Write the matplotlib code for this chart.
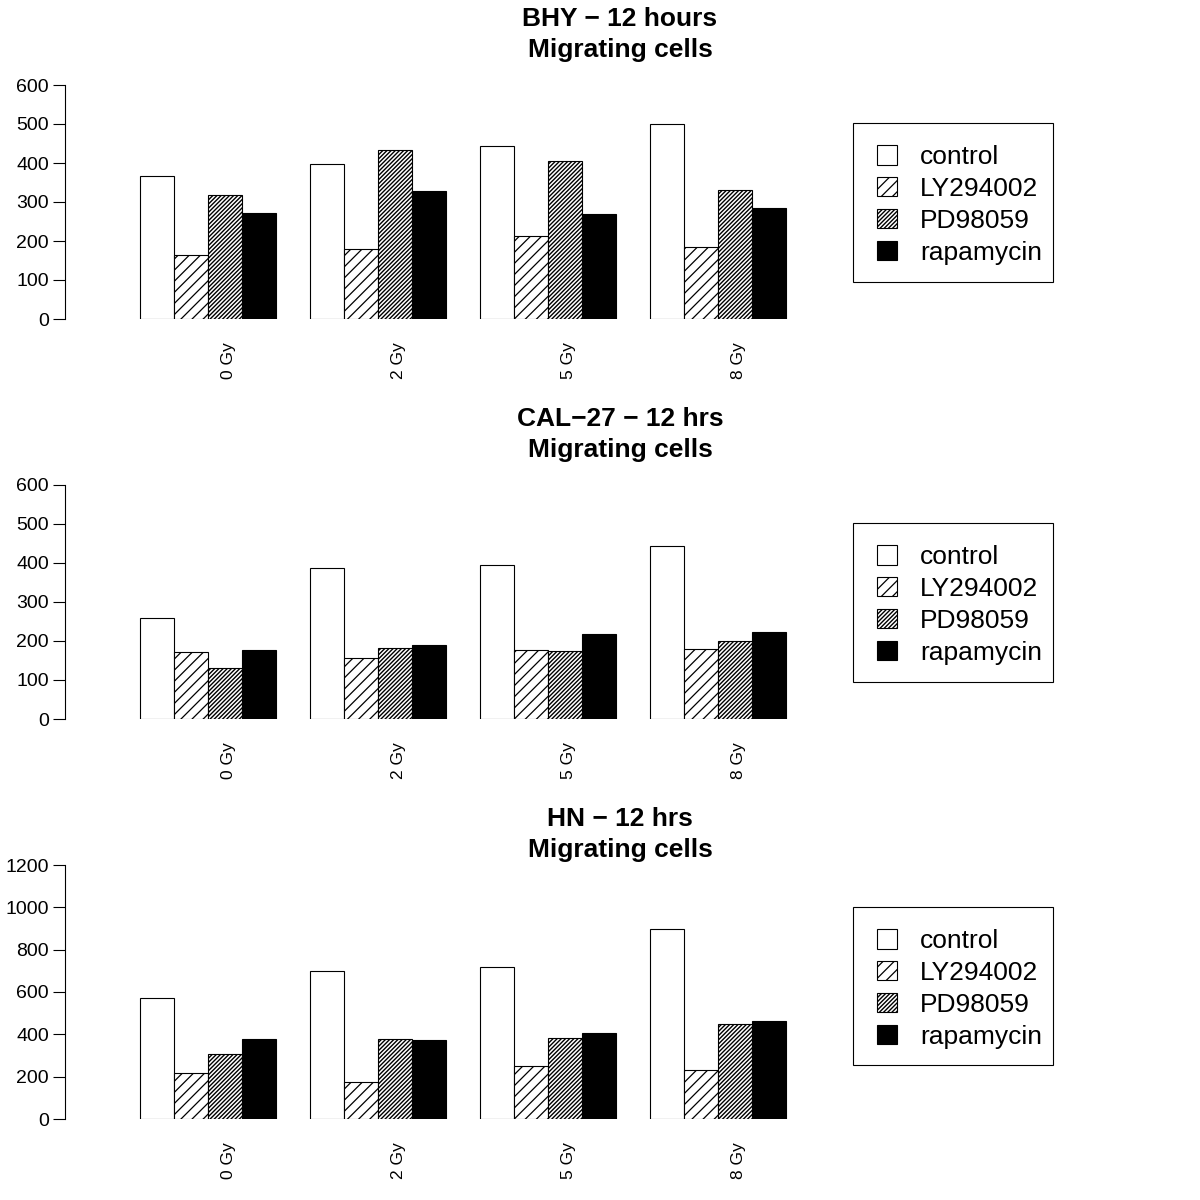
import matplotlib
matplotlib.use("Agg")
import matplotlib.pyplot as plt
from matplotlib.patches import Patch, Rectangle

plt.rcParams['font.family'] = ['Liberation Sans', 'DejaVu Sans']
plt.rcParams['hatch.linewidth'] = 0.8

# data
doses = ["0 Gy", "2 Gy", "5 Gy", "8 Gy"]
treatments = ["control", "LY294002", "PD98059", "rapamycin"]

bhy_control = [367, 398, 443, 499]
bhy_ly = [164, 179, 212, 184]
bhy_pd = [319, 434, 404, 332]
bhy_rapa = [273, 328, 270, 284]

cal_control = [259, 387, 395, 444]
cal_ly = [171, 157, 176, 180]
cal_pd = [131, 183, 175, 200]
cal_rapa = [178, 189, 219, 223]

hn_control = [573, 698, 720, 896]
hn_ly = [216, 173, 250, 230]
hn_pd = [309, 376, 381, 449]
hn_rapa = [380, 375, 405, 465]

panels = [
    ("BHY \u2212 12 hours", [bhy_control, bhy_ly, bhy_pd, bhy_rapa], 600, [0, 100, 200, 300, 400, 500, 600]),
    ("CAL\u221227 \u2212 12 hrs", [cal_control, cal_ly, cal_pd, cal_rapa], 600, [0, 100, 200, 300, 400, 500, 600]),
    ("HN \u2212 12 hrs", [hn_control, hn_ly, hn_pd, hn_rapa], 1200, [0, 200, 400, 600, 800, 1000, 1200]),
]

# pixel layout (figure is 1200x1200)
zero_px = [319, 719, 1119]
top_px = [85, 485, 865]
legend_box_px = [(123, 282), (523, 682), (907, 1065)]

styles = [
    dict(facecolor="white", hatch=None),
    dict(facecolor="white", hatch="///"),
    dict(facecolor="white", hatch="////////"),
    dict(facecolor="black", hatch=None),
]
hatch_lw = [0.8, 0.9, 1.0, 0.8]


def style_patch(patch, j):
    if hasattr(patch, "set_hatch_linewidth"):
        patch.set_hatch_linewidth(hatch_lw[j])


W = 1200.0
fig = plt.figure(figsize=(12, 12), dpi=100)

unit = 34.0            # px per bar
ax_left, ax_right = 65, 1135
x0 = 1 - (140 - ax_left) / unit
x1 = 1 + (ax_right - 140) / unit

for p, (title, series, ymax, yticks) in enumerate(panels):
    z, t = zero_px[p], top_px[p]
    ax = fig.add_axes([ax_left / W, 1 - z / W, (ax_right - ax_left) / W, (z - t) / W])
    for j, vals in enumerate(series):
        lefts = [1 + 5 * g + j for g in range(len(doses))]
        bars = ax.bar(lefts, vals, width=1, align="edge", edgecolor="black",
                      linewidth=0.8, **styles[j])
        for b in bars:
            style_patch(b, j)
    ax.set_xlim(x0, x1)
    ax.set_ylim(0, ymax)
    for s in ["top", "right", "bottom"]:
        ax.spines[s].set_visible(False)
    ax.spines["left"].set_bounds(0, ymax)
    ax.spines["left"].set_linewidth(0.8)
    ax.set_yticks(yticks)
    ax.tick_params(axis="y", length=9, width=0.8, pad=2.5, labelsize=14)
    ax.set_xticks([1 + 5 * g + 2.6 for g in range(len(doses))])
    ax.set_xticklabels(doses, rotation=90, fontsize=12.5)
    ax.tick_params(axis="x", length=0, pad=17)

    fig.text(620 / W, 1 - (z - 293) / W, title, ha="center", va="baseline",
             fontsize=19, fontweight="bold")
    fig.text(620 / W, 1 - (z - 262) / W, "Migrating cells", ha="center",
             va="baseline", fontsize=19, fontweight="bold")

    # legend box drawn separately, entries placed inside it
    btop, bbot = legend_box_px[p]
    ax.add_patch(Rectangle((853 / W, 1 - bbot / W), 200 / W, (bbot - btop) / W,
                           transform=fig.transFigure, facecolor="white",
                           edgecolor="black", linewidth=0.8, clip_on=False,
                           zorder=3))
    handles = [Patch(edgecolor="black", linewidth=0.8, **st) for st in styles]
    leg = ax.legend(handles, treatments, loc="upper left",
                    bbox_to_anchor=(877 / W, 1 - (btop + 22) / W),
                    bbox_transform=fig.transFigure, borderaxespad=0, borderpad=0,
                    fontsize=19, frameon=False,
                    handlelength=0.76, handleheight=0.76,
                    handletextpad=0.87, labelspacing=0.3)
    leg.set_zorder(6)
    for j, h in enumerate(leg.get_patches()):
        style_patch(h, j)

fig.savefig("out.png", dpi=100)
